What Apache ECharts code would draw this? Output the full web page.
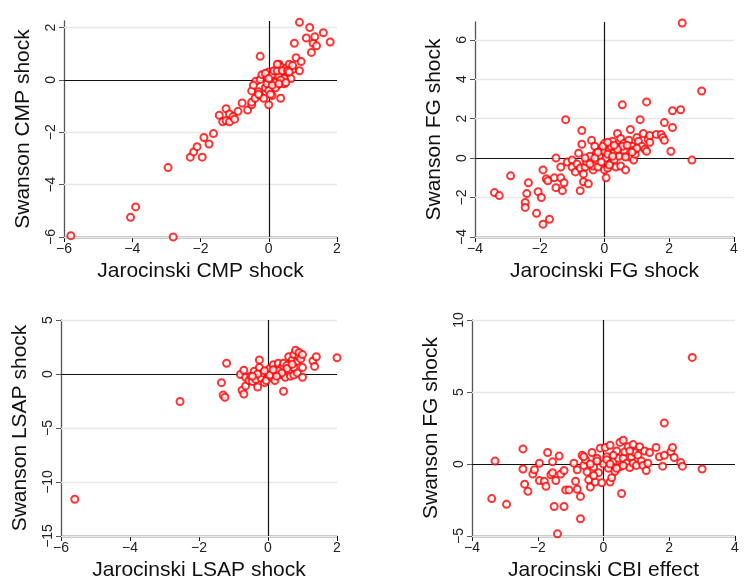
<!DOCTYPE html>
<html><head><meta charset="utf-8">
<script src="https://cdn.jsdelivr.net/npm/echarts@6/dist/echarts.min.js"></script>
<style>body{margin:0;background:#fff}#c{width:745px;height:582px}</style>
</head><body><div id="c"></div>
<script>
// Jarocinski vs Swanson shocks, [x, y]
var cmpPts = [[-5.8,-5.95],[-4.05,-5.25],[-3.9,-4.85],[-2.8,-6],[-2.95,-3.35],[-2.3,-2.95],[-2.2,-2.75],[-2.1,-2.55],[-1.95,-2.95],[-1.9,-2.2],[-1.75,-2.45],[-1.62,-2.05],[-1.45,-1.35],[-1.35,-1.6],[-1.25,-1.1],[-1.25,-1.55],[-1.15,-1.3],[-1.15,-1.6],[-1.05,-1.4],[-1.0,-1.5],[-0.9,-1.2],[-0.78,-0.88],[-0.62,-1.15],[-0.5,-0.95],[-0.5,-0.85],[-0.5,-0.42],[-0.4,-0.7],[-0.38,-0.05],[-0.3,-0.45],[-0.25,0.9],[-0.25,0.02],[-0.25,-0.6],[-0.2,0.2],[-0.15,-0.7],[-0.1,-0.3],[-0.05,0.1],[0,0.3],[0,-0.95],[0,-0.4],[0.05,0],[0.1,-0.6],[0.12,0.3],[0.15,-0.05],[0.2,0.1],[0.25,-0.2],[0.3,0.6],[0.35,0.5],[0.35,-0.7],[0.4,0.2],[0.45,-0.15],[0.5,0.45],[0.6,0.6],[0.65,0.05],[0.7,0.4],[0.75,1.4],[0.8,0.85],[0.9,0.35],[0.9,2.2],[0.95,0.7],[1.1,1.6],[1.2,2.0],[1.25,1.05],[1.3,1.4],[1.35,1.65],[1.4,1.3],[1.6,1.8],[1.8,1.45],[0.05,0.05],[0.1,0.2],[0.2,-0.1],[0.15,0.35],[-0.05,-0.15],[0.3,0.15],[0.25,0.35],[0.4,0.35],[0.45,0.05],[0.55,0.35],[0.2,-0.3],[0.1,-0.2],[-0.1,0.25],[0.0,0.05],[0.35,0],[0.3,-0.15],[0.5,-0.1],[0.7,0.55],[0.05,-0.55],[-0.3,-0.55],[-0.45,-0.2],[0.25,0.6],[0.6,0.3]];
var fgPts = [[-3.4,-1.75],[-3.25,-1.9],[-2.9,-0.9],[-2.35,-1.25],[-2.4,-1.8],[-2.45,-2.25],[-2.45,-2.5],[-2.1,-2.8],[-2.05,-1.7],[-1.95,-2.0],[-1.9,-0.6],[-1.9,-3.35],[-1.7,-3.1],[-1.8,-1.05],[-1.75,-1.15],[-1.55,-1.0],[-1.5,-1.5],[-1.5,0.0],[-1.35,-0.45],[-1.3,-1.65],[-1.35,-1.0],[-1.25,-1.25],[-1.2,1.95],[-1.15,-0.2],[-1.0,-0.1],[-1.0,-0.45],[-0.9,-0.7],[-0.85,-0.3],[-0.8,0.25],[-0.75,-1.65],[-0.75,-0.5],[-0.7,0.7],[-0.7,1.4],[-0.65,-1.2],[-0.65,-0.8],[-0.6,-0.45],[-0.55,-0.2],[-0.5,-1.3],[-0.45,0.1],[-0.4,0.9],[-0.35,-0.6],[-0.35,-0.4],[-0.3,0.6],[-0.25,0.25],[-0.2,-0.45],[-0.15,0.1],[-0.1,0.45],[0,0.75],[0,0.35],[0,-0.6],[0.05,-1.0],[0.05,0.0],[0.1,-0.5],[0.15,0.45],[0.2,-0.25],[0.25,0.85],[0.3,-0.1],[0.3,0.3],[0.35,-0.45],[0.4,1.25],[0.45,0.55],[0.5,1.0],[0.5,-0.4],[0.55,2.7],[0.55,0.2],[0.6,0.75],[0.65,-0.6],[0.7,0.35],[0.75,0.9],[0.8,1.45],[0.8,0.05],[0.85,0.6],[0.9,-0.1],[0.95,0.2],[1.0,1.05],[1.05,0.85],[1.1,1.95],[1.15,0.6],[1.2,1.25],[1.25,0.45],[1.3,2.85],[1.3,0.35],[1.35,0.95],[1.4,0.8],[1.4,1.15],[1.6,1.2],[1.75,1.2],[1.8,1.05],[1.85,0.9],[1.85,1.8],[2.05,0.35],[2.1,1.55],[2.1,2.4],[2.35,2.45],[2.4,6.85],[2.7,-0.1],[3.0,3.4],[-0.3,0.0],[-0.1,-0.2],[0.1,0.2],[0.2,0.6],[0.35,0.55],[0.45,0.1],[0.6,0.4],[0.65,0.05],[0.15,-0.35],[-0.05,0.6],[0.25,0.1],[0.55,0.6],[0.7,0.65],[0.9,0.4],[1.0,0.5],[-0.2,0.3],[-0.45,-0.3],[-0.6,0.0],[0.4,0.45],[0.1,0.8],[0.3,0.65],[0.85,0.3]];
var lsapPts = [[-5.6,-11.6],[-2.55,-2.55],[-1.35,-0.8],[-1.3,-1.95],[-1.25,-2.15],[-1.2,1.0],[-0.8,-0.05],[-0.75,-1.5],[-0.7,0.35],[-0.7,-1.85],[-0.65,-1.1],[-0.65,-0.3],[-0.55,-0.6],[-0.5,-0.2],[-0.45,-0.7],[-0.4,0.25],[-0.35,-0.5],[-0.3,-1.2],[-0.25,1.3],[-0.25,0.6],[-0.2,-0.4],[-0.15,0.1],[-0.1,-0.8],[-0.05,-0.6],[0,0.3],[0,0],[0.05,0.5],[0.1,-0.3],[0.15,0.85],[0.2,-0.6],[0.2,0.2],[0.25,0.5],[0.3,1.0],[0.35,-0.05],[0.4,0.6],[0.45,1.0],[0.45,-1.6],[0.5,0.2],[0.5,-0.3],[0.55,0.8],[0.6,1.6],[0.6,0.25],[0.65,-0.2],[0.7,1.3],[0.75,1.8],[0.75,0.6],[0.75,-0.1],[0.8,2.2],[0.85,1.2],[0.85,0.1],[0.9,1.6],[0.9,2.0],[0.95,1.4],[1.0,1.8],[1.0,0.6],[1.0,-0.3],[1.3,1.2],[1.35,0.7],[1.4,1.6],[2.0,1.5],[-0.3,0.0],[0.05,-0.1],[0.3,0.3],[0.15,0.4],[-0.45,-0.2],[0.55,0.5],[0.7,0.9],[0.4,0.1],[-0.1,0.3],[0.25,-0.2]];
var cbiPts = [[-3.4,-2.4],[-3.3,0.2],[-2.95,-2.8],[-2.45,1.05],[-2.45,-0.35],[-2.4,-1.4],[-2.3,-1.9],[-2.15,-0.7],[-2.1,-0.4],[-1.95,0.05],[-1.95,-1.15],[-1.8,-1.2],[-1.75,-1.55],[-1.7,0.8],[-1.6,-0.75],[-1.55,0.15],[-1.55,-0.6],[-1.5,-2.95],[-1.45,-1.15],[-1.4,-4.85],[-1.35,0.55],[-1.3,-0.7],[-1.2,-0.45],[-1.2,-2.95],[-1.15,-1.8],[-1.05,-1.8],[-0.9,0.05],[-0.85,-1.2],[-0.8,-1.75],[-0.8,-0.4],[-0.7,-2.25],[-0.7,-3.8],[-0.65,0.6],[-0.6,-0.1],[-0.55,0.3],[-0.5,-0.55],[-0.45,-1.1],[-0.4,-1.6],[-0.35,0.8],[-0.3,-0.2],[-0.25,-1.25],[-0.2,0.4],[-0.15,-0.6],[-0.1,1.1],[-0.05,-1.3],[0,0],[0.05,1.15],[0.1,0.5],[0.15,-0.3],[0.2,1.3],[0.2,-1.25],[0.25,-0.95],[0.3,0.2],[0.35,-0.5],[0.4,0.9],[0.45,0.4],[0.5,1.5],[0.5,-0.2],[0.55,-2.05],[0.6,1.65],[0.6,0.4],[0.65,0.85],[0.7,0.05],[0.75,1.2],[0.8,-0.25],[0.85,0.5],[0.9,1.35],[0.9,0.05],[0.95,0.8],[1.0,-0.1],[1.05,0.6],[1.1,1.2],[1.15,0.2],[1.2,-0.1],[1.25,0.9],[1.3,-0.45],[1.35,0.05],[1.4,0.8],[1.6,1.15],[1.7,0.5],[1.8,-0.15],[1.85,2.85],[1.85,0.6],[2.05,0.85],[2.1,1.15],[2.15,0.45],[2.35,0.1],[2.4,-0.15],[2.7,7.4],[3.0,-0.35],[-0.6,0.5],[-0.4,0.0],[-0.2,0.2],[0.1,0.3],[0.3,0.6],[0.4,-0.3],[0.2,0.0],[-0.3,-0.8],[0.6,-0.1],[0.8,0.9]];

var xNames = ['Jarocinski CMP shock','Jarocinski FG shock','Jarocinski LSAP shock','Jarocinski CBI effect'];
var yNames = ['Swanson CMP shock','Swanson FG shock','Swanson LSAP shock','Swanson FG shock'];
var xTicks = [[-6,-4,-2,0,2],[-4,-2,0,2,4],[-6,-4,-2,0,2],[-4,-2,0,2,4]];
var yTicks = [[-6,-4,-2,0,2],[-4,-2,0,2,4,6],[-15,-10,-5,0,5],[-5,0,5,10]];
var xRange = [[-6,2],[-4,4],[-6,2],[-4,4]];
var yRange = [[-6,2.25],[-4,6.9],[-15,5],[-5,10]];
var allPts = [cmpPts, fgPts, lsapPts, cbiPts];

var grids = [
  {left:64, top:21, width:273, height:216},
  {left:475, top:22, width:259, height:215},
  {left:61, top:320, width:276, height:216},
  {left:472, top:320, width:263, height:216}
];
var font = 'Liberation Sans, Arial, sans-serif';
var fmt = function(v){ return String(v).replace('-', '\u2212'); };
var xAxes = [], yAxes = [], series = [];
for (var i = 0; i < 4; i++) {
  xAxes.push({
    gridIndex:i, type:'value', min:xRange[i][0], max:xRange[i][1],
    name:xNames[i], nameLocation:'middle', nameGap:24,
    nameTextStyle:{fontSize:21, color:'#111', fontFamily:font},
    axisLine:{onZero:false, lineStyle:{color:'#111', width:1.3}},
    axisTick:{customValues:xTicks[i], length:5, lineStyle:{color:'#111'}},
    axisLabel:{customValues:xTicks[i], fontSize:14, color:'#222', fontFamily:font, margin:5, formatter:fmt},
    splitLine:{show:false}
  });
  yAxes.push({
    gridIndex:i, type:'value', min:yRange[i][0], max:yRange[i][1],
    name:yNames[i], nameLocation:'middle', nameGap:30,
    nameTextStyle:{fontSize:21, color:'#111', fontFamily:font},
    axisLine:{onZero:false, lineStyle:{color:'#555', width:1.3}},
    axisTick:{customValues:yTicks[i], length:5, lineStyle:{color:'#555'}},
    axisLabel:{customValues:yTicks[i], rotate:90, fontSize:14, color:'#222', fontFamily:font, margin:6, formatter:fmt},
    splitLine:{show:false}
  });
  var ml = [];
  yTicks[i].forEach(function(v){ if (v !== 0) ml.push({yAxis:v, lineStyle:{color:'#e8e8e8', width:1.3, type:'solid'}}); });
  ml.push({yAxis:0, lineStyle:{color:'#111', width:1.2, type:'solid'}});
  ml.push({xAxis:0, lineStyle:{color:'#111', width:1.2, type:'solid'}});
  series.push({
    type:'scatter', xAxisIndex:i, yAxisIndex:i, data:allPts[i],
    symbol:'emptyCircle', symbolSize:7,
    itemStyle:{color:'#ff0000', borderWidth:1.3},
    markLine:{silent:true, symbol:'none', label:{show:false}, animation:false, data:ml},
    z:5, animation:false
  });
}
var chart = echarts.init(document.getElementById('c'));
chart.setOption({grid:grids, xAxis:xAxes, yAxis:yAxes, series:series, animation:false});
</script></body></html>
